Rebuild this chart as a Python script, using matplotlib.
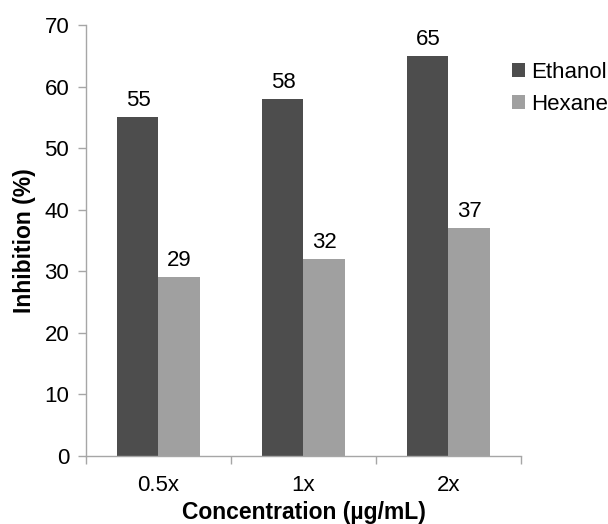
import numpy as np
import matplotlib
matplotlib.use("Agg")
from matplotlib import pyplot as plt

plt.rcParams['font.family'] = ['Liberation Sans', 'DejaVu Sans']

# data
concentrations = ['0.5x', '1x', '2x']
ethanol = [55, 58, 65]
hexane = [29, 32, 37]

dark = '#4d4d4d'
light = '#a0a0a0'
axis_col = '#a6a6a6'

fig = plt.figure(figsize=(6.08, 5.24), dpi=100)
ax = fig.add_axes([0.1414, 0.1298, 0.7155, 0.8225])

x = np.arange(len(concentrations)) + 0.5
w = 0.283

bars_e = ax.bar(x - w / 2, ethanol, w, color=dark, label='Ethanol')
bars_h = ax.bar(x + w / 2, hexane, w, color=light, label='Hexane')

for bars, vals in ((bars_e, ethanol), (bars_h, hexane)):
    for b, v in zip(bars, vals):
        ax.text(b.get_x() + b.get_width() / 2, v + 1.0, str(v),
                ha='center', va='bottom', fontsize=16, color='black')

ax.set_xlim(0, len(concentrations))
ax.set_ylim(0, 70)
ax.set_yticks(np.arange(0, 71, 10))

# boundary ticks on x, labels at group centres
ax.set_xticks(np.arange(0, len(concentrations) + 1))
ax.set_xticklabels([])
ax.set_xticks(x, minor=True)
ax.set_xticklabels(concentrations, minor=True)
ax.tick_params(axis='x', which='minor', length=0, pad=14, labelsize=16)
ax.tick_params(axis='x', which='major', length=6, color=axis_col, width=1)
ax.tick_params(axis='y', length=6, color=axis_col, width=1, labelsize=16, pad=6)

for s in ('top', 'right'):
    ax.spines[s].set_visible(False)
for s in ('left', 'bottom'):
    ax.spines[s].set_color(axis_col)
    ax.spines[s].set_linewidth(1)

ax.set_ylabel('Inhibition (%)', fontsize=16.5, fontweight='bold', labelpad=6)
ax.set_xlabel('Concentration (µg/mL)', fontsize=16.5, fontweight='bold', labelpad=3)

ax.legend(loc='upper left', bbox_to_anchor=(0.842, 0.882),
          bbox_transform=fig.transFigure, frameon=False,
          fontsize=16, handlelength=0.6, handleheight=0.6,
          handletextpad=0.25, labelspacing=0.5, borderpad=0, borderaxespad=0)

fig.savefig('out.png', dpi=100)
